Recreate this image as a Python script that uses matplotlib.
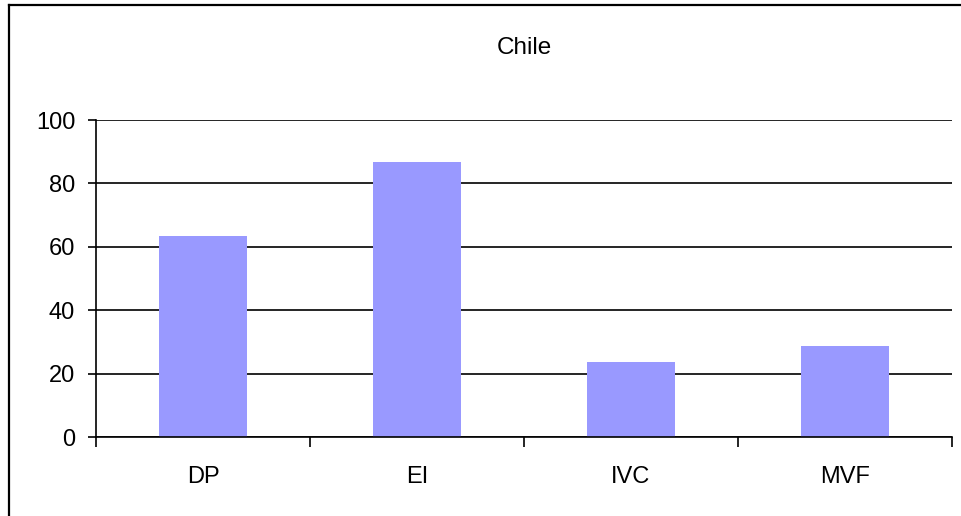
import matplotlib.pyplot as plt
from matplotlib.lines import Line2D

plt.rcParams['font.family'] = ['Liberation Sans', 'DejaVu Sans']

# data
categories = ['DP', 'EI', 'IVC', 'MVF']
values = [63.4, 86.8, 23.7, 28.7]
yticks = [0, 20, 40, 60, 80, 100]

bar_color = '#9999FF'

fig = plt.figure(figsize=(9.61, 5.16), dpi=100)
ax = fig.add_axes([0.0999, 0.1531, 0.8907, 0.6143])

x = list(range(len(categories)))
ax.bar(x, values, width=0.41, color=bar_color, zorder=3)

ax.set_xlim(-0.5, len(categories) - 0.5)
ax.set_ylim(0, 100)

# gridlines
ax.set_yticks(yticks)
ax.grid(axis='y', color='black', linewidth=1.2, zorder=1)
ax.set_axisbelow(True)

for s in ['top', 'right']:
    ax.spines[s].set_visible(False)
for s in ['left', 'bottom']:
    ax.spines[s].set_linewidth(1.2)
    ax.spines[s].set_zorder(4)

ax.tick_params(axis='y', direction='out', length=6, width=1.2, pad=9, labelsize=17)

# category labels in the middle, tick marks at the boundaries
ax.set_xticks(x)
ax.set_xticklabels(categories)
ax.tick_params(axis='x', which='major', length=0, pad=21, labelsize=17)
ax.set_xticks([i - 0.5 for i in range(len(categories) + 1)], minor=True)
ax.tick_params(axis='x', which='minor', direction='out', length=7, width=1.2)

fig.text(0.546, 1 - 48 / 516, 'Chile', ha='center', va='center', fontsize=17.5)

# outer chart frame (only left and top visible)
fig.add_artist(Line2D([9 / 961, 9 / 961], [0, 1 - 4.5 / 516], color='black', linewidth=1.6,
                      transform=fig.transFigure))
fig.add_artist(Line2D([9 / 961, 1], [1 - 4.5 / 516, 1 - 4.5 / 516], color='black', linewidth=1.6,
                      transform=fig.transFigure))

fig.savefig('out.png', dpi=100)
